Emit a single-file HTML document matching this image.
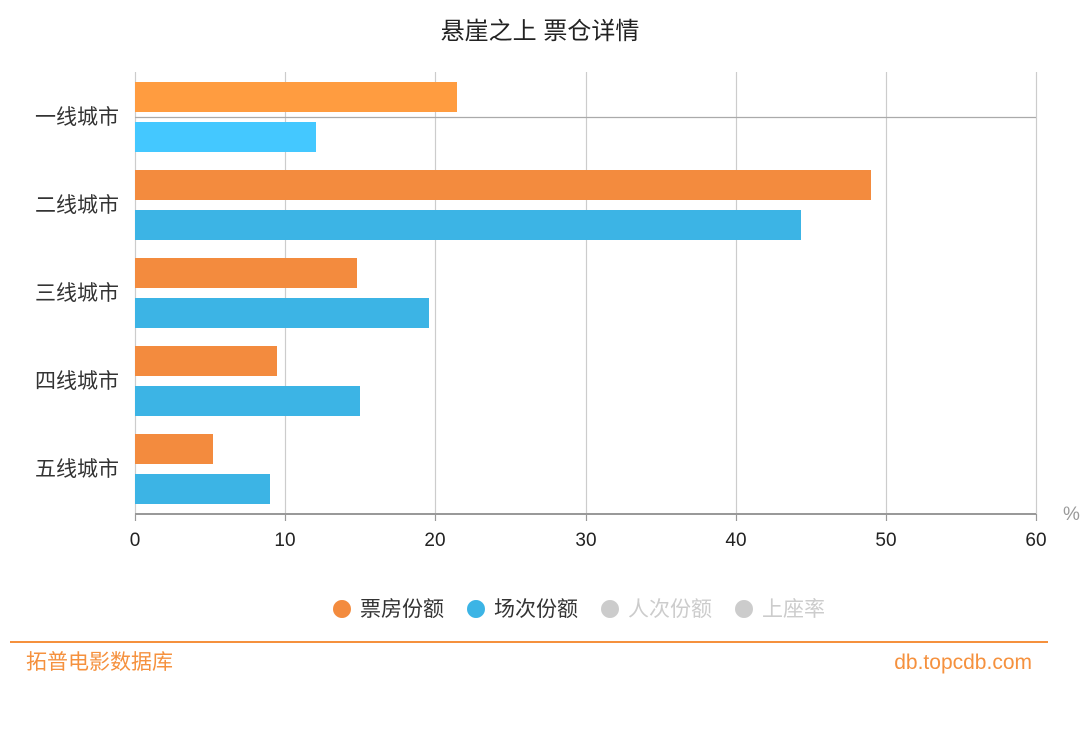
<!DOCTYPE html><html><head><meta charset="utf-8"><style>body{margin:0;background:#fff}svg{display:block}text{font-family:"Liberation Sans","Noto Sans CJK SC",sans-serif}</style></head><body>
<svg width="1080" height="733" viewBox="0 0 1080 733">
<text x="540" y="39" text-anchor="middle" font-size="24" fill="#222">悬崖之上 票仓详情</text>
<g stroke="#ccc" stroke-width="1.2">
<line x1="135.5" y1="72" x2="135.5" y2="514"/><line x1="285.5" y1="72" x2="285.5" y2="514"/><line x1="435.5" y1="72" x2="435.5" y2="514"/><line x1="586.5" y1="72" x2="586.5" y2="514"/><line x1="736.5" y1="72" x2="736.5" y2="514"/><line x1="886.5" y1="72" x2="886.5" y2="514"/><line x1="1036.5" y1="72" x2="1036.5" y2="514"/>
</g>
<line x1="135" y1="117.5" x2="1036" y2="117.5" stroke="#aaa" stroke-width="1.2"/>
<g>
<rect x="135" y="82" width="322" height="30" fill="#FF9C40"/>
<rect x="135" y="122" width="181" height="30" fill="#44C8FF"/>
<rect x="135" y="170" width="736" height="30" fill="#F38B3E"/>
<rect x="135" y="210" width="666" height="30" fill="#3CB4E5"/>
<rect x="135" y="258" width="222" height="30" fill="#F38B3E"/>
<rect x="135" y="298" width="294" height="30" fill="#3CB4E5"/>
<rect x="135" y="346" width="142" height="30" fill="#F38B3E"/>
<rect x="135" y="386" width="225" height="30" fill="#3CB4E5"/>
<rect x="135" y="434" width="78" height="30" fill="#F38B3E"/>
<rect x="135" y="474" width="135" height="30" fill="#3CB4E5"/>
</g>
<line x1="135" y1="514" x2="1036" y2="514" stroke="#999" stroke-width="2"/>
<g stroke="#999" stroke-width="1.2">
<line x1="135.5" y1="514" x2="135.5" y2="521"/><line x1="285.5" y1="514" x2="285.5" y2="521"/><line x1="435.5" y1="514" x2="435.5" y2="521"/><line x1="586.5" y1="514" x2="586.5" y2="521"/><line x1="736.5" y1="514" x2="736.5" y2="521"/><line x1="886.5" y1="514" x2="886.5" y2="521"/><line x1="1036.5" y1="514" x2="1036.5" y2="521"/>
</g>
<g font-size="19" fill="#222" text-anchor="middle">
<text x="135" y="546">0</text><text x="285" y="546">10</text><text x="435" y="546">20</text><text x="586" y="546">30</text><text x="736" y="546">40</text><text x="886" y="546">50</text><text x="1036" y="546">60</text>
</g>
<text x="1063" y="520" font-size="19" fill="#999">%</text>
<g font-size="21" fill="#333" text-anchor="end">
<text x="119" y="124">一线城市</text><text x="119" y="212">二线城市</text><text x="119" y="300">三线城市</text><text x="119" y="388">四线城市</text><text x="119" y="476">五线城市</text>
</g>
<g font-size="21">
<circle cx="342" cy="609" r="9" fill="#F38B3E"/><text x="360" y="616" fill="#333">票房份额</text>
<circle cx="476" cy="609" r="9" fill="#3CB4E5"/><text x="494" y="616" fill="#333">场次份额</text>
<circle cx="610" cy="609" r="9" fill="#ccc"/><text x="628" y="616" fill="#ccc">人次份额</text>
<circle cx="744" cy="609" r="9" fill="#ccc"/><text x="762" y="616" fill="#ccc">上座率</text>
</g>
<line x1="10" y1="642" x2="1048" y2="642" stroke="#F5913E" stroke-width="2"/>
<text x="26" y="669" font-size="21" fill="#F5913E">拓普电影数据库</text>
<text x="1032" y="669" font-size="21" fill="#F5913E" text-anchor="end">db.topcdb.com</text>
</svg></body></html>
